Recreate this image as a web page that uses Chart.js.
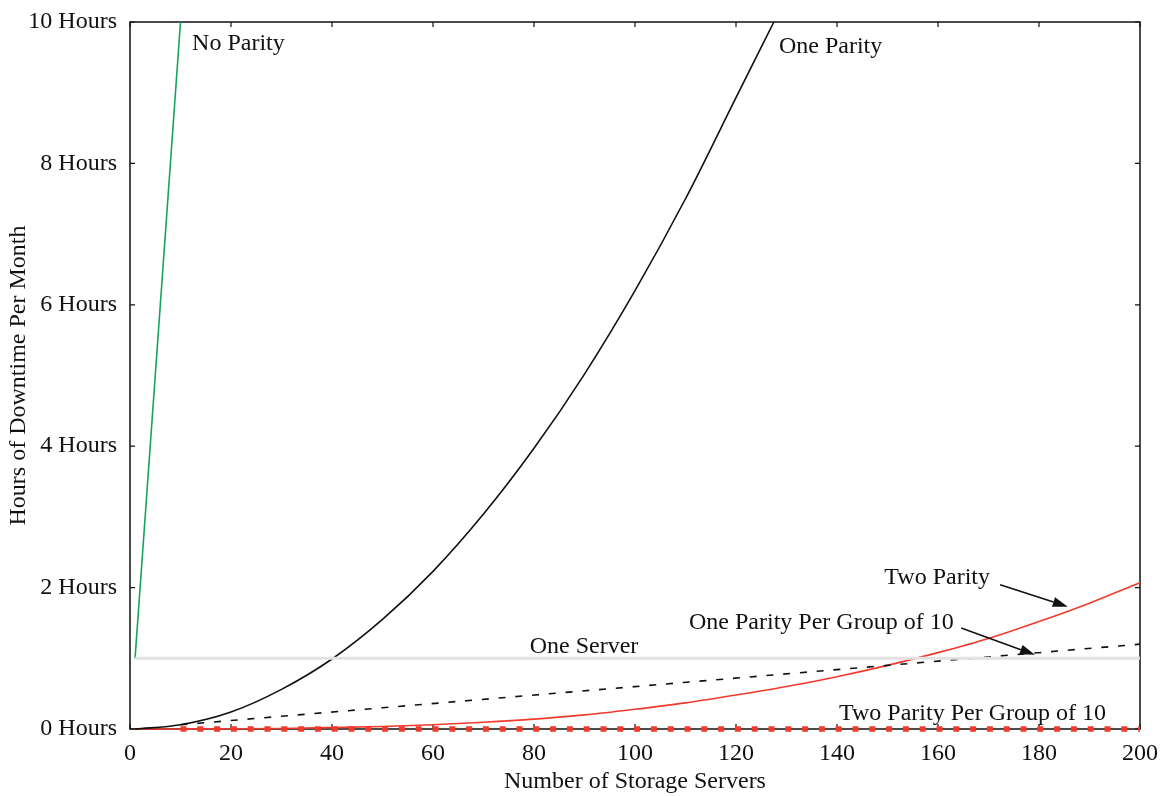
<!DOCTYPE html>
<html>
<head>
<meta charset="utf-8">
<script src="https://cdn.jsdelivr.net/npm/chart.js@4.4.1/dist/chart.umd.min.js"></script>
<style>
  html, body { margin: 0; padding: 0; background: #fff; }
  #wrap { width: 1168px; height: 796px; }
</style>
</head>
<body>
<div id="wrap"><canvas id="downtime"></canvas></div>
<script>
// servers / hours of downtime per month, one pair of arrays per curve
let noParityX = [1, 10];
let noParityY = [1, 10];

let oneParityX = [1, 10, 20, 30, 40, 50, 60, 70, 80, 90, 100, 110, 120, 127.5];
let oneParityY = [0, 0.06, 0.24, 0.56, 0.99, 1.55, 2.23, 3.04, 3.97, 5.02, 6.2, 7.5, 8.93, 10];

let twoParityX = [1, 10, 20, 30, 40, 50, 60, 70, 80, 90, 100, 110, 120, 130, 140, 150, 160, 170, 180, 190, 200];
let twoParityY = [0, 0.001, 0.003, 0.008, 0.02, 0.035, 0.06, 0.095, 0.14, 0.2, 0.28, 0.37, 0.48, 0.6, 0.74, 0.9, 1.08, 1.28, 1.52, 1.78, 2.07];

let groupOneX = [10, 50, 100, 150, 200];
let groupOneY = [0.06, 0.3, 0.6, 0.9, 1.2];

let groupTwoX = [10, 100, 200];
let groupTwoY = [0, 0, 0];

let oneServerX = [1, 200];
let oneServerY = [1, 1];

let xTicks = [0, 20, 40, 60, 80, 100, 120, 140, 160, 180, 200];
let yTicks = [0, 2, 4, 6, 8, 10];

const FONT = '"Liberation Serif", "Times New Roman", serif';
const RED = '#f23a2c';

function pts(xs, ys) {
    return xs.map((x, i) => ({ x: x, y: ys[i] }));
}

// curve labels and arrows, placed in data units
let notes = [
    { text: 'No Parity', x: 12.3, y: 9.69, align: 'left' },
    { text: 'One Parity', x: 128.5, y: 9.65, align: 'left' },
    { text: 'Two Parity', x: 170.3, y: 2.14, align: 'right' },
    { text: 'One Parity Per Group of 10', x: 110.7, y: 1.51, align: 'left' },
    { text: 'One Server', x: 89.9, y: 1.16, align: 'center' },
    { text: 'Two Parity Per Group of 10', x: 140.4, y: 0.21, align: 'left' }
];
let arrows = [
    { from: [172.3, 2.04], to: [185.7, 1.73] },
    { from: [164.6, 1.43], to: [179.2, 1.05] }
];

const frame = {
    id: 'frame',
    beforeDatasetsDraw(chart) {
        const { ctx, chartArea: a, scales } = chart;
        ctx.save();
        ctx.strokeStyle = '#111';
        ctx.lineWidth = 1.5;
        ctx.strokeRect(a.left, a.top, a.right - a.left, a.bottom - a.top);
        ctx.lineWidth = 1.2;
        ctx.beginPath();
        xTicks.forEach(v => {
            const px = scales.x.getPixelForValue(v);
            ctx.moveTo(px, a.bottom); ctx.lineTo(px, a.bottom - 5);
            ctx.moveTo(px, a.top); ctx.lineTo(px, a.top + 5);
        });
        yTicks.forEach(v => {
            const py = scales.y.getPixelForValue(v);
            ctx.moveTo(a.left, py); ctx.lineTo(a.left + 5, py);
            ctx.moveTo(a.right, py); ctx.lineTo(a.right - 5, py);
        });
        ctx.stroke();
        ctx.restore();
    },
    afterDatasetsDraw(chart) {
        const { ctx, scales } = chart;
        ctx.save();
        ctx.fillStyle = '#111';
        ctx.font = '24px ' + FONT;
        ctx.textBaseline = 'middle';
        notes.forEach(n => {
            ctx.textAlign = n.align;
            ctx.fillText(n.text, scales.x.getPixelForValue(n.x), scales.y.getPixelForValue(n.y));
        });
        ctx.strokeStyle = '#111';
        ctx.lineWidth = 1.6;
        arrows.forEach(ar => {
            const x0 = scales.x.getPixelForValue(ar.from[0]), y0 = scales.y.getPixelForValue(ar.from[1]);
            const x1 = scales.x.getPixelForValue(ar.to[0]), y1 = scales.y.getPixelForValue(ar.to[1]);
            const ang = Math.atan2(y1 - y0, x1 - x0);
            const len = 15, half = 5;
            const bx = x1 - len * Math.cos(ang), by = y1 - len * Math.sin(ang);
            ctx.beginPath();
            ctx.moveTo(x0, y0);
            ctx.lineTo(bx, by);
            ctx.stroke();
            ctx.beginPath();
            ctx.moveTo(x1, y1);
            ctx.lineTo(bx + half * Math.sin(ang), by - half * Math.cos(ang));
            ctx.lineTo(bx - half * Math.sin(ang), by + half * Math.cos(ang));
            ctx.closePath();
            ctx.fill();
        });
        ctx.restore();
    }
};

const ctx = document.getElementById('downtime').getContext('2d');

const chart = new Chart(ctx, {
    type: 'line',
    data: {
        datasets: [
            {
                label: 'One Server',
                data: pts(oneServerX, oneServerY),
                borderColor: '#e2e2e2',
                borderWidth: 3
            },
            {
                label: 'No Parity',
                data: pts(noParityX, noParityY),
                borderColor: '#16a45a',
                borderWidth: 1.6
            },
            {
                label: 'One Parity',
                data: pts(oneParityX, oneParityY),
                borderColor: '#111',
                borderWidth: 1.6,
                cubicInterpolationMode: 'monotone'
            },
            {
                label: 'One Parity Per Group of 10',
                data: pts(groupOneX, groupOneY),
                borderColor: '#111',
                borderWidth: 1.6,
                borderDash: [7, 9.8]
            },
            {
                label: 'Two Parity Per Group of 10',
                data: pts(groupTwoX, groupTwoY),
                borderColor: RED,
                borderWidth: 5.5,
                borderDash: [6, 10.8],
                borderCapStyle: 'butt'
            },
            {
                label: 'Two Parity',
                data: pts(twoParityX, twoParityY),
                borderColor: RED,
                borderWidth: 1.6,
                cubicInterpolationMode: 'monotone'
            }
        ]
    },
    options: {
        responsive: true,
        maintainAspectRatio: false,
        animation: false,
        clip: 8,
        elements: { point: { radius: 0 } },
        layout: { padding: { left: 0, right: 28, top: 22, bottom: 0 } },
        plugins: {
            legend: { display: false },
            tooltip: { enabled: false }
        },
        scales: {
            x: {
                type: 'linear',
                min: 0,
                max: 200,
                afterBuildTicks: s => { s.ticks = xTicks.map(v => ({ value: v })); },
                afterFit: s => { s.height = 67; s.paddingLeft = 0; s.paddingRight = 0; },
                grid: { display: false, drawTicks: false },
                border: { display: false },
                ticks: {
                    padding: 10,
                    color: '#111',
                    font: { family: FONT, size: 24 }
                },
                title: {
                    display: true,
                    text: 'Number of Storage Servers',
                    color: '#111',
                    font: { family: FONT, size: 24 },
                    padding: { top: 0, bottom: 0 }
                }
            },
            y: {
                min: 0,
                max: 10,
                afterBuildTicks: s => { s.ticks = yTicks.map(v => ({ value: v })); },
                afterFit: s => { s.width = 130; s.paddingTop = 0; s.paddingBottom = 0; },
                grid: { display: false, drawTicks: false },
                border: { display: false },
                ticks: {
                    padding: 13,
                    color: '#111',
                    font: { family: FONT, size: 24 },
                    callback: v => v + ' Hours'
                },
                title: {
                    display: true,
                    text: 'Hours of Downtime Per Month',
                    color: '#111',
                    font: { family: FONT, size: 24 },
                    padding: { top: 4, bottom: 0 }
                }
            }
        }
    },
    plugins: [frame]
});
</script>
</body>
</html>
